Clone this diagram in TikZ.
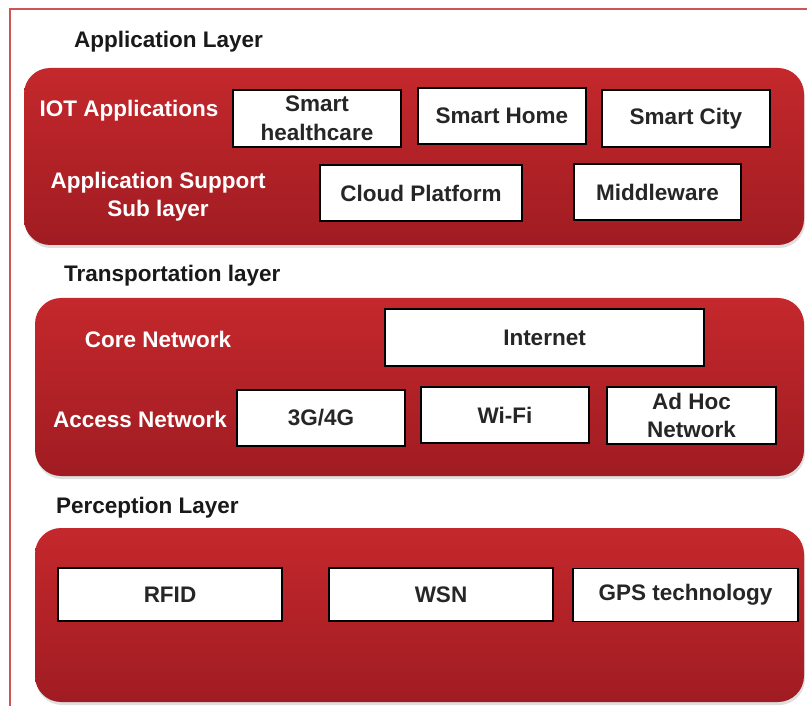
\documentclass[tikz,border=0pt]{standalone}
\usepackage{fontspec}
\setmainfont{Liberation Sans}
\usetikzlibrary{shadows}
\definecolor{lred}{RGB}{196,40,44}
\definecolor{dred}{RGB}{160,28,34}
\definecolor{frame}{RGB}{205,85,85}
\begin{document}
\begin{tikzpicture}[x=1pt,y=-1pt,
  layerbox/.style={rounded corners=26pt, top color=lred, bottom color=dred, draw=none,
     drop shadow={shadow xshift=1pt, shadow yshift=-3pt, opacity=0.25}},
  wbox/.style={draw=black, line width=1.6pt, fill=white, align=center, inner sep=0pt,
     font=\bfseries\fontsize{22.5}{28.5}\selectfont, text=black!85},
  title/.style={anchor=west, font=\bfseries\fontsize{22.5}{28}\selectfont, text=black!90, inner sep=0pt},
  wlabel/.style={font=\bfseries\fontsize{22.5}{28}\selectfont, text=white, align=center, inner sep=0pt}]
\useasboundingbox (0,0) rectangle (807,706);
\fill[white] (0,0) rectangle (807,706);
% outer frame
\draw[frame, line width=2pt] (10,712) -- (10,9) -- (812,9);
% layer boxes
\path[layerbox] (24,68) rectangle (804,245);
\path[layerbox] (35,298) rectangle (804,476);
\path[layerbox] (35,528) rectangle (804,702);
% titles
\node[title] (tapp) at (74,42) {Application Layer};
\node[title] (ttra) at (64,276) {Transportation layer};
\node[title] (tper) at (56,508) {Perception Layer};
% white labels
\node[wlabel] (iot) at (129,111) {IOT Applications};
\node[wlabel] (aps) at (158,197) {Application Support\\Sub layer};
\node[wlabel] (core) at (158,339) {Core Network};
\node[wlabel] (acc) at (140,419) {Access Network};
% application layer boxes
\node[wbox, minimum width=168pt, minimum height=57pt] (shc) at (317,118.5) {Smart\\healthcare};
\node[wbox, minimum width=168pt, minimum height=56pt] (shome) at (502,116) {Smart Home};
\node[wbox, minimum width=168pt, minimum height=57pt] (scity) at (686,118.5) {Smart City};
\node[wbox, minimum width=202pt, minimum height=56pt] (cloud) at (421,193) {Cloud Platform};
\node[wbox, minimum width=167pt, minimum height=56pt] (mid) at (657.5,192) {Middleware};
% transportation layer boxes
\node[wbox, minimum width=319pt, minimum height=57pt] (inet) at (544.5,337.5) {Internet};
\node[wbox, minimum width=168pt, minimum height=56pt] (g34) at (321,418) {3G/4G};
\node[wbox, minimum width=168pt, minimum height=56pt] (wifi) at (505,415) {Wi-Fi};
\node[wbox, minimum width=169pt, minimum height=57pt] (adhoc) at (691.5,415.5) {Ad Hoc\\Network};
% perception layer boxes
\node[wbox, minimum width=224pt, minimum height=53pt] (rfid) at (170,594.5) {RFID};
\node[wbox, minimum width=224pt, minimum height=53pt] (wsn) at (441,594.5) {WSN};
\node[wbox, minimum width=225pt, minimum height=53pt] (gps) at (685.5,595) {GPS technology};
\end{tikzpicture}
\end{document}
